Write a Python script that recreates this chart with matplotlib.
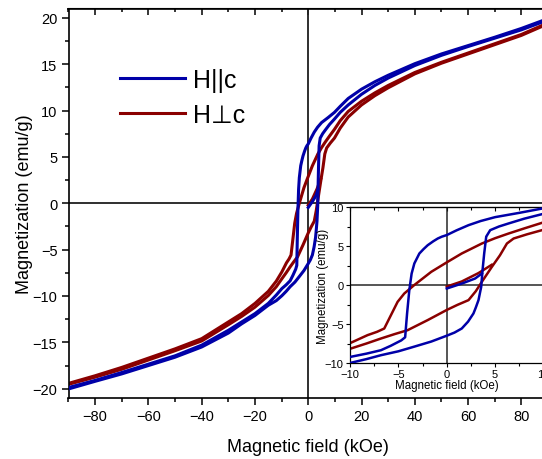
import matplotlib
matplotlib.use("Agg")
import matplotlib.pyplot as plt
from matplotlib.ticker import MultipleLocator
from matplotlib.lines import Line2D

plt.rcParams['font.family'] = ['Liberation Sans', 'DejaVu Sans']

# H || c : field (kOe) and magnetization (emu/g)
blue_down_H = [88, 80, 70, 60, 50, 40, 30, 25, 20, 15, 12, 9.84, 7.5, 5.0, 3.5, 2.25, 1.0, 0, -0.5, -0.93,
               -1.4, -1.97, -2.4, -2.83, -3.35, -3.63, -3.87, -4.1, -4.3, -4.7, -5.8, -6.8, -8.3, -9.9,
               -12, -15, -20, -25, -30, -40, -50, -60, -70, -80, -89.7]
blue_down_M = [19.7, 18.85, 17.9, 17.0, 16.1, 15.05, 13.8, 13.1, 12.3, 11.3, 10.45, 9.8, 9.25, 8.7, 8.2,
               7.67, 7.0, 6.4, 6.2, 5.96, 5.6, 5.1, 4.6, 4.04, 2.76, 1.47, -0.66, -3.65, -6.7, -7.1, -7.8,
               -8.36, -8.8, -9.2, -9.9, -10.8, -11.9, -12.8, -13.7, -15.3, -16.45, -17.35, -18.25, -19.1,
               -19.85]
blue_up_H = [-89.7, -80, -70, -60, -50, -40, -30, -25, -20, -15, -12, -9.9, -8.3, -6.8, -5.0, -3.35,
             -1.6, 0, 0.8, 1.55, 2.2, 2.76, 3.0, 3.28, 3.56, 3.7, 3.87, 4.08, 4.49, 5.4, 6.39, 8.0, 9.84,
             12, 15, 20, 25, 30, 40, 50, 60, 70, 80, 88]
blue_up_M = [-20.0, -19.2, -18.4, -17.5, -16.6, -15.5, -14.0, -13.0, -12.1, -11.0, -10.5, -9.97, -9.5,
             -9.0, -8.5, -7.9, -7.25, -6.5, -6.1, -5.58, -4.7, -3.65, -2.9, -1.94, -0.24, 1.9, 4.04,
             6.2, 7.03, 7.5, 7.89, 8.5, 9.08, 9.8, 10.6, 11.75, 12.7, 13.5, 14.85, 15.95, 16.9, 17.8,
             18.7, 19.55]
blue_virgin_H = [0, 1.55, 2.93, 3.63]
blue_virgin_M = [-0.45, 0.18, 0.83, 1.47]

# H perp c
red_down_H = [88, 80, 70, 60, 50, 40, 30, 25, 20, 15, 12, 9.84, 8.0, 6.39, 5.0, 3.63, 1.55, 0, -1.6,
              -3.35, -4.39, -5.08, -5.77, -6.46, -7.2, -8.19, -9.9, -12, -15, -20, -25, -30, -40, -50,
              -60, -70, -80, -89.7]
red_down_M = [19.2, 18.2, 17.2, 16.2, 15.2, 14.1, 12.7, 11.9, 11.0, 9.9, 8.9, 7.97, 7.25, 6.6, 6.0, 5.32,
              4.04, 2.9, 1.69, 0, -1.09, -2.16, -3.87, -5.58, -6.0, -6.43, -7.4, -8.4, -9.5, -10.8,
              -11.9, -12.8, -14.6, -15.7, -16.7, -17.7, -18.6, -19.4]
red_up_H = [-89.7, -80, -70, -60, -50, -40, -30, -25, -20, -15, -12, -9.9, -8.3, -6.8, -5.4, -4.04,
            -1.97, 0, 1.1, 2.25, 3.0, 3.63, 4.66, 5.5, 6.22, 6.91, 8.3, 9.84, 12, 15, 20, 25, 30, 40, 50,
            60, 70, 80, 88]
red_up_M = [-19.5, -18.75, -17.9, -16.9, -15.9, -14.85, -13.1, -12.2, -11.2, -9.95, -9.0, -8.14, -7.5,
            -6.86, -6.3, -5.79, -4.5, -3.2, -2.55, -1.94, -0.8, 0.41, 2.32, 3.81, 5.32, 5.96, 6.5, 7.03,
            8.1, 9.3, 10.6, 11.6, 12.45, 13.95, 15.1, 16.1, 17.1, 18.1, 19.1]
red_virgin_H = [0, 1.55, 3.28, 4.66]
red_virgin_M = [-0.2, 0.45, 1.53, 2.6]

blue = '#0000A8'
red = '#8A0000'

fig = plt.figure(figsize=(5.42, 4.60), dpi=100)
W, Hpx = 542.0, 460.0

# main axes (right edge runs past the picture, like in the original)
ax = fig.add_axes([68.5 / W, 1 - 399 / Hpx, (548 - 68.5) / W, (399 - 9.5) / Hpx])

def draw(a, lw):
    a.axhline(0, color='#222222', lw=lw * 0.6, zorder=1)
    a.axvline(0, color='#222222', lw=lw * 0.6, zorder=1)
    a.plot(blue_down_H, blue_down_M, color=blue, lw=lw, zorder=3)
    a.plot(blue_up_H, blue_up_M, color=blue, lw=lw, zorder=3)
    a.plot(blue_virgin_H, blue_virgin_M, color=blue, lw=lw, zorder=3)
    a.plot(red_down_H, red_down_M, color=red, lw=lw, zorder=2)
    a.plot(red_up_H, red_up_M, color=red, lw=lw, zorder=2)
    a.plot(red_virgin_H, red_virgin_M, color=red, lw=lw, zorder=2)

draw(ax, 2.2)
ax.set_xlim(-90, 90)
ax.set_ylim(-21, 21)
ax.xaxis.set_major_locator(MultipleLocator(20))
ax.xaxis.set_minor_locator(MultipleLocator(10))
ax.yaxis.set_major_locator(MultipleLocator(5))
ax.yaxis.set_minor_locator(MultipleLocator(2.5))
ax.tick_params(which='major', direction='out', length=5, width=1.1, labelsize=10.5, pad=3)
ax.tick_params(which='minor', direction='out', length=3, width=1.1)
for s in ax.spines.values():
    s.set_linewidth(1.2)
top = ax.secondary_xaxis('top')
top.xaxis.set_major_locator(MultipleLocator(20))
top.xaxis.set_minor_locator(MultipleLocator(10))
top.tick_params(which='major', direction='in', length=5, width=1.1, labeltop=False)
top.tick_params(which='minor', direction='in', length=3, width=1.1)
ax.set_xlabel('Magnetic field (kOe)', fontsize=13, labelpad=11)
ax.set_ylabel('Magnetization (emu/g)', fontsize=13)
ax.yaxis.set_label_coords((33 - 68.5) / 479.5, 0.5)

handles = [Line2D([], [], color=blue, lw=2.2), Line2D([], [], color=red, lw=2.2)]
fig.legend(handles, ['H||c', 'H\u22a5c'], loc='upper left', bbox_to_anchor=(120 / W, 1 - 69 / Hpx),
           frameon=False, fontsize=18, handlelength=2.6, handletextpad=0.32,
           labelspacing=0.44, borderpad=0, borderaxespad=0)

# inset
ins = fig.add_axes([350 / W, 1 - 364 / Hpx, 193.5 / W, 156 / Hpx])
ins.set_facecolor('white')
draw(ins, 1.8)
ins.set_xlim(-10, 10)
ins.set_ylim(-10, 10)
ins.xaxis.set_major_locator(MultipleLocator(5))
ins.xaxis.set_minor_locator(MultipleLocator(2.5))
ins.yaxis.set_major_locator(MultipleLocator(5))
ins.yaxis.set_minor_locator(MultipleLocator(2.5))
ins.tick_params(which='major', direction='out', length=3, width=0.8, labelsize=8, pad=1.5)
ins.tick_params(which='minor', direction='out', length=2, width=0.8)
for s in ins.spines.values():
    s.set_linewidth(0.9)
itop = ins.secondary_xaxis('top')
itop.xaxis.set_major_locator(MultipleLocator(5))
itop.xaxis.set_minor_locator(MultipleLocator(2.5))
itop.tick_params(which='major', direction='in', length=3, width=0.8, labeltop=False)
itop.tick_params(which='minor', direction='in', length=2, width=0.8)
ins.set_xlabel('Magnetic field (kOe)', fontsize=8.3, labelpad=0)
ins.set_ylabel('Magnetization (emu/g)', fontsize=8.3)
ins.yaxis.set_label_coords((329 - 350) / 193.5, 0.5)

fig.savefig('out.png', dpi=100)
